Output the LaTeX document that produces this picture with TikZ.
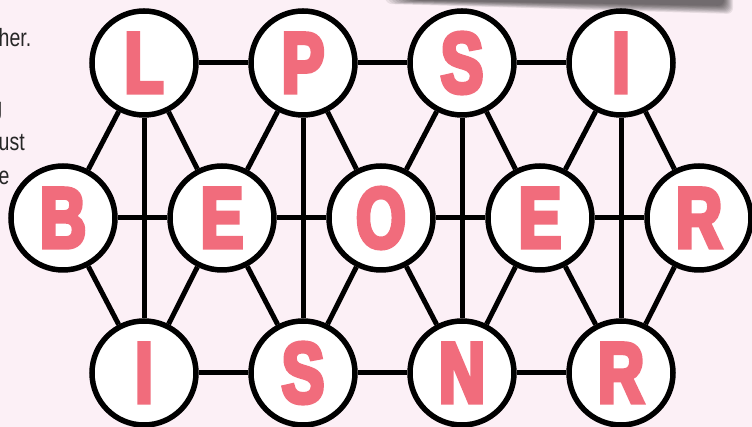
\documentclass[tikz,border=0pt]{standalone}
\usepackage{fontspec}
\setmainfont{Liberation Sans}
\newfontfamily\tilefont[FakeStretch=0.74,FakeBold=5]{Liberation Sans}
\newfontfamily\narrowfont[FakeStretch=0.78]{Liberation Sans}
\definecolor{tilepink}{RGB}{241,108,124}
\definecolor{pagepink}{RGB}{252,240,246}

\begin{document}
\begin{tikzpicture}[x=1pt, y=1pt, node distance=159pt,
    tile/.style={circle, draw, line width=5.5pt, fill=white, minimum size=104pt, inner sep=0pt, text=tilepink, font=\tilefont\bfseries\fontsize{86}{86}\selectfont},
    textline/.style={inner sep=0pt, text=black!85, font=\narrowfont\fontsize{25}{30}\selectfont},
    link/.style={line width=5pt}]
    \useasboundingbox (0,0) rectangle (752,427);
    \clip (0,0) rectangle (752,427);
    \fill[pagepink] (0,0) rectangle (752,427);

    % Shadow of the card above
    \foreach \i in {0,...,9}
        \fill[black, opacity=0.075, rounded corners=6pt] (383+3*\i,440) -- (733-\i,440) -- (733-\i,413+0.9*\i) -- (386+3*\i,423+0.4*\i) -- cycle;

    % Text running in from the left
    \node (line1) [textline, anchor=base west] at (-1.5,380) {her.};
    \node (line2) [textline, anchor=base east] at (2.5,311) {g};
    \node (line3) [textline, anchor=base west] at (-1.5,276.5) {ust};
    \node (line4) [textline, anchor=base west] at (-1.5,242) {e};

    % Middle row
    \node (B) [tile] at (63,209) {B};
    \node (E1) [tile, right of=B] {E};
    \node (O) [tile, right of=E1] {O};
    \node (E2) [tile, right of=O] {E};
    \node (R1) [tile, right of=E2] {R};

    % Top row
    \node (L) [tile, above of=B, xshift=81pt, yshift=-4pt] {L};
    \node (P) [tile, right of=L] {P};
    \node (S1) [tile, right of=P] {S};
    \node (I1) [tile, right of=S1] {I};

    % Bottom row
    \node (I2) [tile, below of=B, xshift=81pt, yshift=4pt] {I};
    \node (S2) [tile, right of=I2] {S};
    \node (N) [tile, right of=S2] {N};
    \node (R2) [tile, right of=N] {R};

    % Links along the rows
    \draw[link] (L) -- (P) (P) -- (S1) (S1) -- (I1);
    \draw[link] (B) -- (E1) (E1) -- (O) (O) -- (E2) (E2) -- (R1);
    \draw[link] (I2) -- (S2) (S2) -- (N) (N) -- (R2);

    % Links down the columns
    \draw[link] (L) -- (I2) (P) -- (S2) (S1) -- (N) (I1) -- (R2);

    % Links on the slants
    \draw[link] (L) -- (B) (L) -- (E1) (P) -- (E1) (P) -- (O);
    \draw[link] (S1) -- (O) (S1) -- (E2) (I1) -- (E2) (I1) -- (R1);
    \draw[link] (I2) -- (B) (I2) -- (E1) (S2) -- (E1) (S2) -- (O);
    \draw[link] (N) -- (O) (N) -- (E2) (R2) -- (E2) (R2) -- (R1);
\end{tikzpicture}
\end{document}
